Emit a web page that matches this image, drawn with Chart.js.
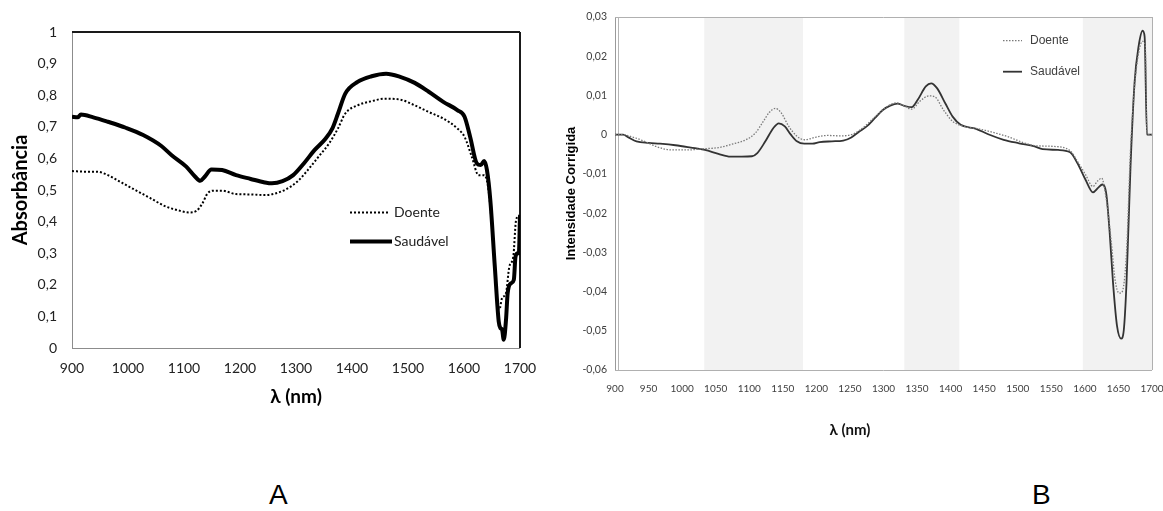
<!DOCTYPE html>
<html><head><meta charset="utf-8">
<script src="https://cdn.jsdelivr.net/npm/chart.js@4.4.0/dist/chart.umd.min.js"></script>
<style>
html,body{margin:0;padding:0;background:#fff;width:1163px;height:511px;overflow:hidden;}
#ca{position:absolute;left:0;top:0;}
#cb{position:absolute;left:560px;top:0;}
.lbl{position:absolute;font-family:'Liberation Sans',Arial,sans-serif;font-size:28px;line-height:28px;color:#000;}
</style></head><body>
<canvas id="ca" width="560" height="420"></canvas>
<canvas id="cb" width="603" height="460"></canvas>
<div class="lbl" style="left:269px;top:481px">A</div>
<div class="lbl" style="left:1032px;top:481px">B</div>
<script>
// ---------- DATA ----------
const seriesNames = ['Doente', 'Saudável'];

// Chart A : Absorbância vs λ (nm)
const aDoenteX = [900,925,945,964,989,1015,1040,1066,1091,1110,1123,1133,1142,1155,1168,1193,1219,1244,1263,1282,1302,1321,1340,1359,1375,1388,1410,1435,1458,1486,1512,1537,1563,1588,1601,1614,1626,1636,1643,1651,1659,1663,1668,1675,1681,1688,1693,1699];
const aDoenteY = [0.56,0.558,0.558,0.547,0.523,0.498,0.474,0.449,0.435,0.429,0.435,0.458,0.489,0.498,0.498,0.487,0.486,0.484,0.489,0.502,0.526,0.563,0.605,0.647,0.695,0.742,0.768,0.781,0.789,0.786,0.768,0.747,0.726,0.695,0.668,0.605,0.547,0.547,0.51,0.363,0.153,0.121,0.158,0.174,0.258,0.289,0.405,0.42];
const aSaudavelX = [900,910,916,938,964,996,1027,1059,1078,1104,1120,1129,1137,1149,1168,1193,1219,1244,1257,1276,1295,1314,1333,1353,1365,1375,1388,1410,1435,1461,1486,1512,1537,1563,1588,1601,1611,1623,1630,1636,1641,1647,1655,1662,1665,1668,1671,1675,1678,1684,1689,1692,1696,1698,1700];
const aSaudavelY = [0.732,0.73,0.739,0.73,0.716,0.697,0.674,0.64,0.61,0.574,0.542,0.529,0.542,0.565,0.563,0.547,0.535,0.524,0.521,0.528,0.547,0.584,0.626,0.663,0.695,0.742,0.805,0.842,0.86,0.868,0.858,0.839,0.811,0.779,0.753,0.732,0.668,0.584,0.579,0.592,0.563,0.468,0.258,0.084,0.063,0.058,0.026,0.089,0.174,0.205,0.216,0.289,0.3,0.3,0.42];

// Chart B : Intensidade Corrigida vs λ (nm)
const bDoenteX = [900,912,926,944,961,984,1008,1031,1054,1077,1095,1109,1121,1130,1139,1147,1159,1171,1182,1200,1217,1235,1252,1269,1287,1304,1319,1330,1342,1354,1368,1377,1389,1403,1421,1444,1467,1485,1508,1525,1554,1578,1589,1601,1612,1619,1625,1632,1639,1645,1651,1655,1662,1668,1674,1680,1686,1690,1692.5,1700];
const bDoenteY = [0,0,-0.0006,-0.0017,-0.003,-0.0039,-0.0039,-0.0036,-0.0033,-0.0023,-0.0013,0.0004,0.0034,0.0057,0.0067,0.0057,0.0021,-0.0004,-0.0013,-0.0006,-0.0002,-0.0003,0,0.0017,0.0045,0.007,0.0081,0.0074,0.0065,0.0085,0.0099,0.0096,0.0064,0.0034,0.0021,0.0014,0.0004,-0.0005,-0.002,-0.0028,-0.003,-0.0041,-0.0068,-0.0102,-0.0132,-0.0118,-0.0111,-0.0166,-0.0268,-0.037,-0.0404,-0.0402,-0.0302,-0.0038,0.0123,0.0208,0.0238,0.0225,0,0];
const bSaudavelX = [900,912,920,932,950,967,990,1013,1034,1054,1072,1089,1104,1112,1124,1136,1144,1153,1162,1171,1182,1194,1205,1223,1240,1252,1264,1275,1287,1299,1310,1321,1330,1342,1351,1363,1371,1380,1392,1403,1415,1438,1456,1479,1502,1525,1537,1560,1578,1589,1601,1612,1620,1626,1632,1637,1642,1648,1654,1658,1662,1668,1674,1680,1686,1689,1692.5,1700];
const bSaudavelY = [0,0,-0.0007,-0.0017,-0.0021,-0.0023,-0.0027,-0.0033,-0.0039,-0.0049,-0.0056,-0.0056,-0.0055,-0.0047,-0.0017,0.0017,0.0029,0.0021,0,-0.0017,-0.0023,-0.0023,-0.0019,-0.0017,-0.0015,-0.0007,0.0008,0.0021,0.0042,0.0063,0.0074,0.0079,0.0074,0.007,0.0089,0.0123,0.0131,0.0118,0.008,0.0046,0.0025,0.0015,0.0001,-0.0013,-0.0022,-0.003,-0.0037,-0.0039,-0.0045,-0.0073,-0.0115,-0.0147,-0.0135,-0.0127,-0.0152,-0.0251,-0.0379,-0.0489,-0.0520,-0.0498,-0.0379,-0.0081,0.0132,0.0225,0.0265,0.025,0,0];

// shaded wavelength bands in chart B
const bandsB = [[1033,1180],[1331,1413],[1597,1700]];

// ---------- HELPERS ----------
const pts = (xs, ys) => xs.map((x, i) => ({x: x, y: ys[i]}));
const fmt = dec => v => {
  if (Math.abs(v) < 1e-9) return '0';
  if (Math.abs(v - Math.round(v)) < 1e-9) return String(Math.round(v));
  return v.toFixed(dec).replace('.', ',');
};

const decor = {
  id: 'decor',
  beforeDatasetsDraw(chart, args, o) {
    const {ctx, chartArea: a, scales: {x}} = chart;
    ctx.save();
    (o.bands || []).forEach(([b0, b1]) => {
      const p0 = x.getPixelForValue(b0), p1 = x.getPixelForValue(b1);
      ctx.fillStyle = o.bandColor;
      ctx.fillRect(p0, a.top, p1 - p0, a.bottom - a.top);
    });
    const L = Math.round(a.left), R = Math.round(a.right), T = Math.round(a.top), B = Math.round(a.bottom);
    const line = (x0, y0, x1, y1, s) => {
      ctx.beginPath(); ctx.strokeStyle = s.color; ctx.lineWidth = s.width;
      const off = (s.width % 2) ? 0.5 : 0;
      if (x0 === x1) { ctx.moveTo(x0 + off, y0); ctx.lineTo(x1 + off, y1); }
      else { ctx.moveTo(x0, y0 + off); ctx.lineTo(x1, y1 + off); }
      ctx.stroke();
    };
    line(L, T, L, B, o.frame.left);
    line(L, B, R, B, o.frame.bottom);
    line(L, T, R, T, o.frame.top);
    line(R, T, R, B, o.frame.right);
    if (o.frame.extraLeft) line(L + o.frame.extraLeft.dx, T, L + o.frame.extraLeft.dx, B, o.frame.extraLeft);
    ctx.restore();
  },
  afterDraw(chart, args, o) {
    const {ctx} = chart;
    ctx.save();
    const lg = o.legend;
    chart.data.datasets.forEach((ds, i) => {
      const y = lg.y0 + i * lg.dy;
      ctx.beginPath();
      ctx.strokeStyle = ds.borderColor; ctx.lineWidth = ds.borderWidth;
      ctx.setLineDash(ds.borderDash || []);
      ctx.moveTo(lg.x, y); ctx.lineTo(lg.x + lg.len[i], y); ctx.stroke();
      ctx.setLineDash([]);
      ctx.fillStyle = lg.color; ctx.font = lg.font;
      ctx.textBaseline = 'middle'; ctx.textAlign = 'left';
      ctx.fillText(ds.label, lg.x + lg.textDx, y);
    });
    if (o.xTitle) {
      const t = o.xTitle;
      ctx.fillStyle = t.color; ctx.font = t.font;
      ctx.textAlign = 'center'; ctx.textBaseline = 'middle';
      ctx.fillText(t.text, chart.scales.x.getPixelForValue(t.atValue), t.y);
    }
    ctx.restore();
  }
};

// ---------- CHART A ----------
new Chart(document.getElementById('ca'), {
  type: 'line',
  data: {datasets: [
    {label: seriesNames[0], data: pts(aDoenteX, aDoenteY), borderColor: '#000', borderWidth: 2, borderDash: [2, 2],
     pointRadius: 0, cubicInterpolationMode: 'monotone', fill: false},
    {label: seriesNames[1], data: pts(aSaudavelX, aSaudavelY), borderColor: '#000', borderWidth: 4,
     pointRadius: 0, cubicInterpolationMode: 'monotone', borderJoinStyle: 'round', fill: false}
  ]},
  options: {
    responsive: false, animation: false, devicePixelRatio: 1,
    layout: {padding: {left: 0, top: 32, right: 40, bottom: 0}},
    plugins: {
      legend: {display: false}, tooltip: {enabled: false},
      decor: {
        frame: {left: {color: '#8c8c8c', width: 1}, bottom: {color: '#8c8c8c', width: 1},
                top: {color: '#1a1a1a', width: 2}, right: {color: '#1a1a1a', width: 2}},
        legend: {x: 350, y0: 212.5, dy: 29, len: [39, 42], textDx: 44, font: '14px Lato', color: '#222'}
      }
    },
    scales: {
      x: {type: 'linear', min: 900, max: 1700,
          ticks: {stepSize: 100, padding: 12, color: '#222', font: {family: 'Lato', size: 14}, maxRotation: 0, autoSkip: false, callback: v => String(v)},
          grid: {display: false, drawTicks: false}, border: {display: false},
          title: {display: true, text: 'λ (nm)', color: '#000', font: {family: 'Lato', size: 19, weight: 'bold'}, padding: {top: 0, bottom: 11.6}},
          afterFit(s) { s.height = 72; s.paddingLeft = 0; s.paddingRight = 0; }},
      y: {type: 'linear', min: 0, max: 1,
          ticks: {stepSize: 0.1, padding: 15, color: '#222', font: {family: 'Lato', size: 14}, callback: fmt(1)},
          grid: {display: false, drawTicks: false}, border: {display: false},
          title: {display: true, text: 'Absorbância', color: '#000', font: {family: 'Lato', size: 20, weight: 'bold'}, padding: {top: 8.5, bottom: 0}},
          afterFit(s) { s.width = 72; s.paddingTop = 0; s.paddingBottom = 0; }}
    }
  },
  plugins: [decor]
});

// ---------- CHART B ----------
new Chart(document.getElementById('cb'), {
  type: 'line',
  data: {datasets: [
    {label: seriesNames[0], data: pts(bDoenteX, bDoenteY), borderColor: '#7a7a7a', borderWidth: 1.3, borderDash: [1.5, 1.5],
     pointRadius: 0, cubicInterpolationMode: 'monotone', fill: false},
    {label: seriesNames[1], data: pts(bSaudavelX, bSaudavelY), borderColor: '#333', borderWidth: 1.8,
     pointRadius: 0, cubicInterpolationMode: 'monotone', fill: false}
  ]},
  options: {
    responsive: false, animation: false, devicePixelRatio: 1,
    layout: {padding: {left: 0, top: 17, right: 11, bottom: 0}},
    plugins: {
      legend: {display: false}, tooltip: {enabled: false},
      decor: {
        bands: bandsB, bandColor: '#f2f2f2',
        frame: {left: {color: '#9a9a9a', width: 1}, bottom: {color: '#b0b0b0', width: 1},
                top: {color: '#b0b0b0', width: 1}, right: {color: '#b0b0b0', width: 1},
                extraLeft: {color: '#b5b5b5', width: 1, dx: 3}},
        legend: {x: 443, y0: 40.7, dy: 31, len: [19, 19], textDx: 27, font: "12px 'Liberation Sans'", color: '#404040'},
        xTitle: {text: 'λ (nm)', atValue: 1250, y: 430.5, font: 'bold 15px Lato', color: '#111'}
      }
    },
    scales: {
      x: {type: 'linear', min: 900, max: 1700,
          ticks: {stepSize: 50, padding: 13, color: '#404040', font: {family: 'Lato', size: 10}, maxRotation: 0, autoSkip: false, callback: v => String(v)},
          grid: {display: false, drawTicks: false}, border: {display: false},
          afterFit(s) { s.height = 90; s.paddingLeft = 0; s.paddingRight = 0; }},
      y: {type: 'linear', min: -0.06, max: 0.03,
          ticks: {stepSize: 0.01, padding: 8, color: '#404040', font: {family: 'Lato', size: 10.5}, callback: fmt(2)},
          grid: {display: false, drawTicks: false}, border: {display: false},
          title: {display: true, text: 'Intensidade Corrigida', color: '#000', font: {family: 'Liberation Sans', size: 13, weight: 'bold'}, padding: {top: 3.7, bottom: 0}},
          afterFit(s) { s.width = 55; s.paddingTop = 0; s.paddingBottom = 0; }}
    }
  },
  plugins: [decor]
});
</script>
</body></html>
